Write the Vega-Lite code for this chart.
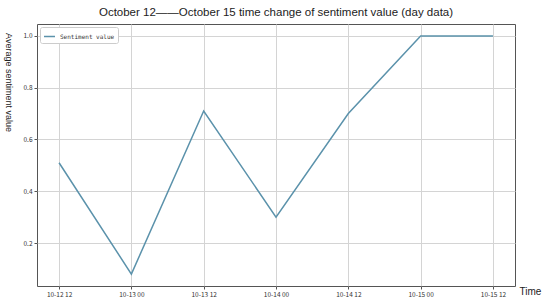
{
  "$schema": "https://vega.github.io/schema/vega-lite/v6.json",
  "width": 478,
  "height": 262,
  "autosize": {"type": "none"},
  "padding": {"left": 37, "top": 24, "right": 35, "bottom": 18},
  "background": "white",
  "title": {
    "text": "October 12\u2014\u2014October 15 time change of sentiment value (day data)",
    "font": "Liberation Sans",
    "fontSize": 11.5,
    "fontWeight": "normal",
    "color": "#222",
    "anchor": "middle",
    "offset": 6
  },
  "config": {
    "view": {"stroke": "#555", "strokeWidth": 1},
    "axis": {
      "gridColor": "#d4d4d4",
      "gridWidth": 1,
      "domain": false,
      "tickColor": "#555",
      "tickSize": 3,
      "labelFont": "Noto Sans CJK SC",
      "labelFontSize": 6.5,
      "labelColor": "#333",
      "titleFont": "Liberation Sans",
      "titleColor": "#222"
    }
  },
  "data": {
    "values": [
      {"time": "10-12 12", "value": 0.51, "series": "Sentiment value"},
      {"time": "10-13 00", "value": 0.08, "series": "Sentiment value"},
      {"time": "10-13 12", "value": 0.71, "series": "Sentiment value"},
      {"time": "10-14 00", "value": 0.30, "series": "Sentiment value"},
      {"time": "10-14 12", "value": 0.70, "series": "Sentiment value"},
      {"time": "10-15 00", "value": 1.0, "series": "Sentiment value"},
      {"time": "10-15 12", "value": 1.0, "series": "Sentiment value"}
    ]
  },
  "mark": {"type": "line", "strokeWidth": 1.5},
  "encoding": {
    "x": {
      "field": "time",
      "type": "ordinal",
      "sort": null,
      "scale": {"type": "point", "padding": 0.305},
      "axis": {
        "labelAngle": 0,
        "title": "Time",
        "titleFontSize": 10,
        "titleFontWeight": "normal",
        "titleX": 493,
        "titleY": 5,
        "titleAlign": "center",
        "titleBaseline": "middle",
        "grid": true
      }
    },
    "y": {
      "field": "value",
      "type": "quantitative",
      "scale": {"domain": [0.034, 1.046], "nice": false, "zero": false},
      "axis": {
        "values": [0.2, 0.4, 0.6, 0.8, 1.0],
        "format": ".1f",
        "title": "Average sentiment value",
        "titleFontSize": 9,
        "titleFontWeight": "normal",
        "titleAngle": 90,
        "titleX": -29,
        "titleY": 58,
        "titleAlign": "center",
        "titleBaseline": "middle",
        "grid": true
      }
    },
    "color": {
      "field": "series",
      "type": "nominal",
      "scale": {"range": ["#5b92ab"]},
      "legend": {
        "title": null,
        "orient": "top-left",
        "offset": 3,
        "symbolType": "stroke",
        "symbolSize": 120,
        "symbolStrokeWidth": 1.5,
        "labelFont": "DejaVu Sans Mono",
        "labelFontSize": 6,
        "labelColor": "#333",
        "strokeColor": "#cccccc",
        "fillColor": "white",
        "padding": 3,
        "cornerRadius": 2
      }
    }
  }
}
